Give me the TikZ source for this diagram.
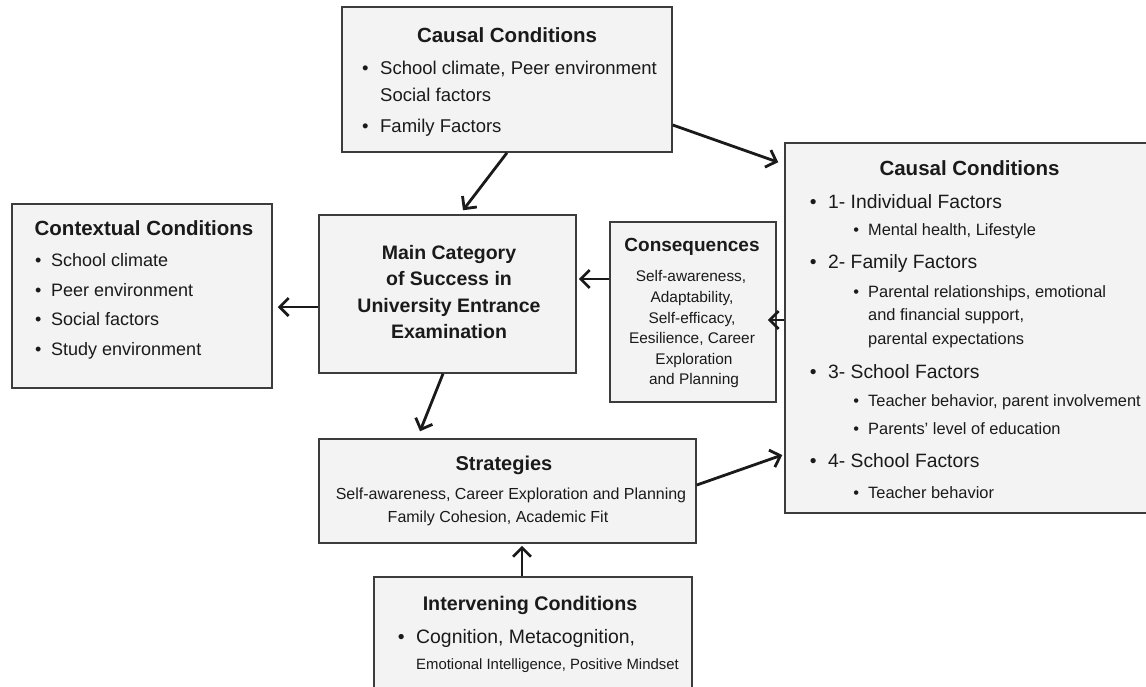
\documentclass[tikz,border=0pt]{standalone}
\usepackage{fontspec}
\setmainfont{Liberation Sans}
\usetikzlibrary{arrows.meta}
\definecolor{boxfill}{HTML}{F3F3F3}
\definecolor{boxline}{HTML}{3C3C3C}
\definecolor{ink}{HTML}{1A1A1A}
\newcommand\bul[1]{\makebox[#1pt][l]{\textbullet}}
\tikzset{
  box/.style={draw=boxline, fill=boxfill, line width=1.5pt, inner sep=0pt},
  arr/.style={draw=ink, line width=2.8pt, -{Straight Barb[length=9pt,width=18pt]}},
  txt/.style={inner sep=0pt, anchor=base west, text=ink},
  ctxt/.style={inner sep=0pt, anchor=base, text=ink},
  ttl/.style={ctxt, font=\bfseries\fontsize{20.5}{24}\selectfont},
}
\begin{document}
\begin{tikzpicture}[x=1pt,y=-1pt]
\useasboundingbox (0,0) rectangle (1146,686);
\fill[white] (0,0) rectangle (1146,686);
% boxes
\node[box, minimum width=330pt, minimum height=145pt] (top) at (507,79.5) {};
\node[box, minimum width=260pt, minimum height=184pt] (ctx) at (142,296) {};
\node[box, minimum width=257pt, minimum height=158pt] (main) at (447.5,294) {};
\node[box, minimum width=166pt, minimum height=180pt] (cons) at (693,312) {};
\node[box, minimum width=365pt, minimum height=370pt] (right) at (967.5,328) {};
\node[box, minimum width=377pt, minimum height=104pt] (strat) at (507.5,491) {};
\node[box, minimum width=318pt, minimum height=123pt] (interv) at (533,638.5) {};

% top box text
\node[ttl] (t0) at (507,42) {Causal Conditions};
\begin{scope}[every node/.style={font=\fontsize{18.5}{22}\selectfont}]
\node[txt] (t1) at (361.8,74) {\bul{18.2}School climate, Peer environment};
\node[txt] (t2) at (380,101.5) {Social factors};
\node[txt] (t3) at (361.8,132) {\bul{18.2}Family Factors};
\end{scope}

% contextual
\node[ttl] (c0) at (144,235) {Contextual Conditions};
\begin{scope}[every node/.style={font=\fontsize{18}{22}\selectfont}]
\node[txt] (c1) at (34.9,266) {\bul{16.1}School climate};
\node[txt] (c2) at (34.9,296) {\bul{16.1}Peer environment};
\node[txt] (c3) at (34.9,325) {\bul{16.1}Social factors};
\node[txt] (c4) at (34.9,355) {\bul{16.1}Study environment};
\end{scope}

% main
\begin{scope}[every node/.style={font=\bfseries\fontsize{19.5}{22}\selectfont}]
\node[ctxt] (m1) at (449,259) {Main Category};
\node[ctxt] (m2) at (449,285) {of Success in};
\node[ctxt] (m3) at (449,312) {University Entrance};
\node[ctxt] (m4) at (449,338) {Examination};
\end{scope}

% consequences
\node[ctxt, font=\bfseries\fontsize{19}{22}\selectfont] (q0) at (692,251) {Consequences};
\begin{scope}[every node/.style={font=\fontsize{15.4}{18}\selectfont}]
\node[ctxt] (q1) at (691,281) {Self-awareness,};
\node[ctxt] (q2) at (692,302) {Adaptability,};
\node[ctxt] (q3) at (692,323) {Self-efficacy,};
\node[ctxt] (q4) at (692,343) {Eesilience, Career};
\node[ctxt] (q5) at (694,364) {Exploration};
\node[ctxt] (q6) at (694,384) {and Planning};
\end{scope}

% right causal
\node[ttl] (r0) at (969.5,175) {Causal Conditions};
\begin{scope}[every node/.style={font=\fontsize{19.3}{22}\selectfont}]
\node[txt] (r1) at (809.6,208) {\bul{18.4}1- Individual Factors};
\node[txt] (r2) at (809.6,268) {\bul{18.4}2- Family Factors};
\node[txt] (r3) at (809.6,378) {\bul{18.4}3- School Factors};
\node[txt] (r4) at (809.6,467) {\bul{18.4}4- School Factors};
\end{scope}
\begin{scope}[every node/.style={font=\fontsize{16.4}{20}\selectfont}]
\node[txt] (s1) at (853.1,235) {\bul{14.9}Mental health, Lifestyle};
\node[txt] (s2) at (853.1,297) {\bul{14.9}Parental relationships, emotional};
\node[txt] (s3) at (868,320) {and financial support,};
\node[txt] (s4) at (868,344) {parental expectations};
\node[txt] (s5) at (853.1,406) {\bul{14.9}Teacher behavior, parent involvement};
\node[txt] (s6) at (853.1,434) {\bul{14.9}Parents' level of education};
\node[txt] (s7) at (853.1,498) {\bul{14.9}Teacher behavior};
\end{scope}

% strategies
\node[ctxt, font=\bfseries\fontsize{20}{24}\selectfont] (g0) at (504,470) {Strategies};
\begin{scope}[every node/.style={font=\fontsize{16}{20}\selectfont}]
\node[ctxt] (g1) at (511,499) {Self-awareness, Career Exploration and Planning};
\node[ctxt] (g2) at (498,522) {Family Cohesion, Academic Fit};
\end{scope}

% intervening
\node[ctxt, font=\bfseries\fontsize{19.7}{24}\selectfont] (i0) at (530,610) {Intervening Conditions};
\node[txt, font=\fontsize{19.4}{22}\selectfont] (i1) at (397.6,643) {\bul{18.4}Cognition, Metacognition,};
\node[txt, font=\fontsize{14.9}{18}\selectfont] (i2) at (416,669) {Emotional Intelligence, Positive Mindset};

% connectors
\draw[arr] (top.south) -- ([xshift=15.5pt,yshift=4pt]main.north);
\draw[arr] ([yshift=-45.5pt]top.east) -- ([xshift=-6pt,yshift=-20pt]right.north west);
\draw[arr] ([yshift=-13pt]main.west) -- ([xshift=5pt,yshift=-11pt]ctx.east);
\draw[arr] ([yshift=33pt]cons.west) -- ([xshift=2pt,yshift=15pt]main.east);
\draw[arr] ([yshift=8pt]right.west) -- ([xshift=-9pt,yshift=-8pt]cons.east);
\draw[arr] ([xshift=-4.5pt]main.south) -- ([xshift=-87.5pt,yshift=7pt]strat.north);
\draw[arr] ([xshift=-11pt]interv.north) -- ([xshift=14.5pt,yshift=-2pt]strat.south);
\draw[arr] ([yshift=6pt]strat.east) -- ([xshift=-2pt,yshift=-127pt]right.west);
\end{tikzpicture}
\end{document}
